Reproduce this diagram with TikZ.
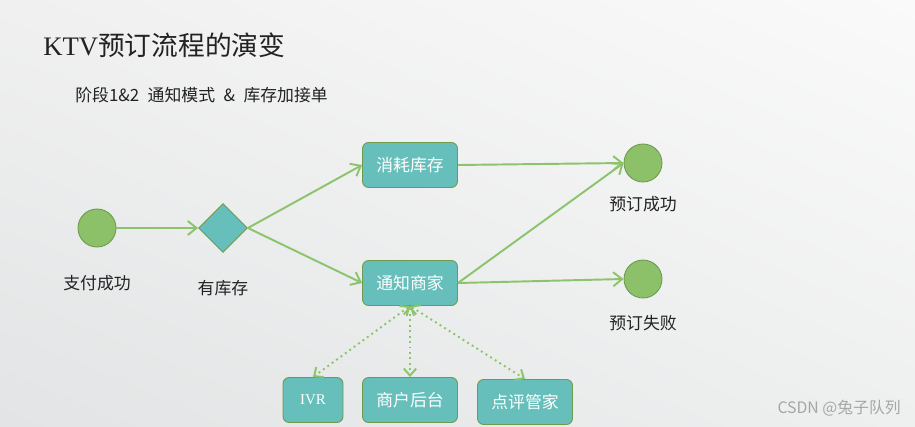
\documentclass[tikz,border=0pt]{standalone}
\usepackage{fontspec}
\setmainfont{Noto Sans CJK SC}
\newfontfamily\latinserif{Liberation Serif}
\usepackage{tikz}
\usetikzlibrary{arrows.meta,positioning,shapes.geometric,shadings}

\definecolor{tealfill}{HTML}{66BFBB}
\definecolor{boxedge}{HTML}{6E9A4E}
\definecolor{dotfill}{HTML}{8DC169}
\definecolor{flowline}{HTML}{8CC46C}
\definecolor{inktext}{HTML}{222222}
\definecolor{bgll}{RGB}{226,228,229}
\definecolor{bgul}{RGB}{240,240,240}
\definecolor{bgur}{RGB}{250,250,250}
\definecolor{bglr}{RGB}{238,239,239}

\begin{document}
\begin{tikzpicture}[
    x=0.02cm, y=-0.02cm,
    node distance=5mm,
    stepbox/.style={draw=boxedge, fill=tealfill, rounded corners=3.5pt,
                    minimum width=1.9cm, minimum height=0.9cm,
                    font=\fontsize{9.6}{11}\selectfont, text=white, line width=0.5pt},
    dot/.style={circle, draw=boxedge, fill=dotfill, minimum size=0.76cm,
                inner sep=0pt, line width=0.5pt},
    choice/.style={diamond, draw=boxedge, fill=tealfill, minimum size=0.98cm,
                   inner sep=0pt, line width=0.5pt},
    caption/.style={font=\fontsize{9.6}{11}\selectfont, text=inktext},
    flow/.style={-{Straight Barb[length=5pt,width=8pt]}, draw=flowline, line width=1.1pt},
    link/.style={{Straight Barb[length=4pt,width=7pt]}-{Straight Barb[length=4pt,width=7pt]},
                 draw=flowline, line width=1.1pt, dotted},
  ]
  % background
  \shade[lower left=bgll, upper left=bgul, upper right=bgur, lower right=bglr]
    (0,0) rectangle (915,426);
  \useasboundingbox (0,0) rectangle (915,426);

  % headings
  \node[anchor=west, text=inktext, font=\fontsize{15.2}{18}\selectfont, inner sep=0pt] (title) at (43,45)
    {{\latinserif KTV}预订流程的演变};
  \node[anchor=west, text=inktext, font=\fontsize{9.6}{11}\selectfont, inner sep=0pt] (phase) at (75,95)
    {阶段1\&2\enspace 通知模式\enspace\&\enspace 库存加接单};

  % flow nodes
  \node[dot] (pay) at (97,228) {};
  \node[caption, below=4.4mm of pay] (paylbl) {支付成功};
  \node[choice] (stock) at (223,228) {};
  \node[caption, below=4.3mm of stock] (stocklbl) {有库存};
  \node[stepbox] (consume) at (410,165) {消耗库存};
  \node[stepbox] (notify) at (410,283) {通知商家};
  \node[dot] (ok) at (643,163) {};
  \node[caption, below=1.5mm of ok] (oklbl) {预订成功};
  \node[dot] (fail) at (643,279) {};
  \node[caption, below=2.2mm of fail] (faillbl) {预订失败};

  % channels
  \node[stepbox, minimum width=1.2cm, font=\fontsize{8.5}{10}\selectfont\latinserif] (ivr) at (313,400) {IVR};
  \node[stepbox] (backend) at (410,400) {商户后台};
  \node[stepbox] (keeper) at (525,402) {点评管家};

  % watermark
  \node[anchor=east, text=gray!70, font=\fontsize{9}{11}\selectfont, inner sep=0pt] (mark) at (901,408)
    {CSDN @兔子队列};

  % connectors
  \draw[flow] (pay) -- (stock);
  \draw[flow] (stock.east) -- (consume.west);
  \draw[flow] (stock.east) -- (notify.west);
  \draw[flow] (consume.east) -- (ok.west);
  \draw[flow] (notify.east) -- (ok.west);
  \draw[flow] (notify.east) -- (fail.west);
  \draw[link] (notify.south) -- (ivr.north);
  \draw[link] (notify.south) -- (backend.north);
  \draw[link] (notify.south) -- (keeper.north);
\end{tikzpicture}
\end{document}
